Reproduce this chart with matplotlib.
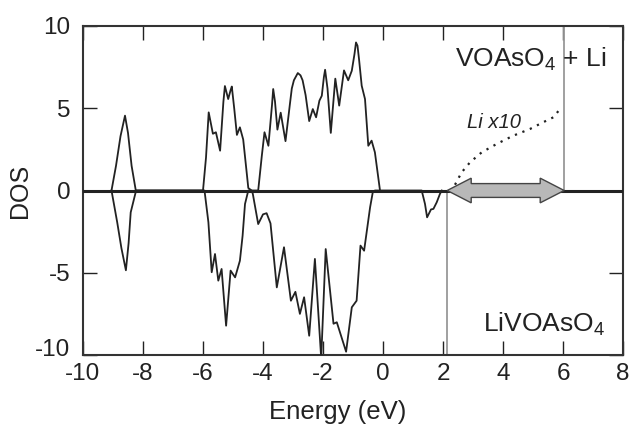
import numpy as np
import matplotlib
matplotlib.use("Agg")
import matplotlib.pyplot as plt
import matplotlib.transforms as mtransforms
from matplotlib.patches import Polygon

plt.rcParams['font.family'] = ['Liberation Sans', 'DejaVu Sans']
plt.rcParams['mathtext.fontset'] = 'custom'
plt.rcParams['mathtext.rm'] = 'Liberation Sans'
plt.rcParams['mathtext.it'] = 'Liberation Sans:italic'
plt.rcParams['axes.unicode_minus'] = False

# VOAsO4 + Li (upper, positive DOS)
up_e = [-9.05, -8.9, -8.75, -8.6, -8.5, -8.38, -8.24,
        -6.0, -5.9, -5.81, -5.67, -5.57, -5.43, -5.32, -5.27, -5.16, -5.08, -5.04,
        -4.96, -4.87, -4.77, -4.66, -4.55, -4.49, -4.38,
        -4.16, -4.04, -3.95, -3.82, -3.7, -3.66, -3.6, -3.52, -3.41, -3.25, -3.1,
        -3.04, -2.97, -2.84, -2.75, -2.68, -2.58, -2.46, -2.34, -2.23, -2.12, -2.04,
        -1.97, -1.93, -1.85, -1.74, -1.59, -1.46, -1.30, -1.16, -1.04, -0.95, -0.9,
        -0.85, -0.8, -0.71, -0.6, -0.49, -0.38, -0.27, -0.1]
up_dos = [0, 1.5, 3.3, 4.55, 3.5, 1.5, 0,
          0, 2.0, 4.75, 3.45, 3.54, 2.42, 5.4, 6.35, 5.56, 6.1, 6.32,
          5.0, 3.38, 3.84, 3.1, 1.2, 0.15, 0,
          0, 2.1, 3.54, 2.72, 5.2, 6.17, 5.4, 3.7, 4.73, 3.0, 5.3,
          6.2, 6.7, 7.14, 7.0, 6.7, 5.8, 4.22, 4.95, 4.45, 5.46, 5.76,
          6.9, 7.34, 6.2, 3.5, 6.8, 5.16, 7.3, 6.7, 7.28, 8.3, 9.0,
          8.8, 8.0, 6.37, 5.56, 2.72, 3.03, 2.32, 0]

# LiVOAsO4 (lower, negative DOS)
dn_e = [-9.05, -8.86, -8.72, -8.57, -8.48, -8.41, -8.23,
        -5.95, -5.82, -5.71, -5.6, -5.49, -5.38, -5.23, -5.08, -4.93, -4.77, -4.68,
        -4.6, -4.49, -4.38, -4.34, -4.16, -4.0, -3.88, -3.75, -3.54, -3.3, -3.07,
        -2.92, -2.77, -2.63, -2.46, -2.27, -2.06, -1.91, -1.65, -1.54, -1.23, -1.04,
        -0.88, -0.75, -0.63, -0.43, -0.34, -0.27,
        1.29, 1.4, 1.47, 1.6, 1.68, 1.79, 1.9, 1.96]
dn_dos = [0, -1.93, -3.5, -4.85, -3.2, -1.33, 0,
          0, -1.93, -4.97, -3.86, -5.48, -4.77, -8.22, -4.87, -5.28, -4.27, -2.75,
          -0.82, 0, 0, -0.2, -2.04, -1.45, -1.38, -2.0, -5.89, -3.45, -6.7,
          -6.16, -7.5, -6.49, -8.83, -4.16, -10.2, -3.56, -8.1, -8.01, -9.8, -7.1,
          -6.7, -3.35, -3.66, -1.02, -0.1, 0,
          0, -0.82, -1.63, -1.15, -1.12, -0.72, -0.2, 0]

# Li contribution x10 (dotted)
li_e = [2.4, 2.62, 2.9, 3.29, 3.79, 4.34, 4.9, 5.34, 5.68, 5.92]
li_dos = [0.35, 1.1, 1.71, 2.32, 2.83, 3.33, 3.74, 4.15, 4.45, 5.0]

gap_lo = 2.14
gap_hi = 6.04

fig = plt.figure(figsize=(6.29, 4.25), dpi=100)
ax = fig.add_axes([83 / 629, 70 / 425, 540 / 629, 329 / 425])

ax.axhline(0, color='#222222', lw=2.2, zorder=3)
ax.plot(up_e, up_dos, color='#222222', lw=1.3, zorder=4)
ax.plot(dn_e, dn_dos, color='#222222', lw=1.3, zorder=4)
ax.plot(li_e, li_dos, color='#222222', lw=1.6, ls=(0, (1, 2.6)), zorder=4)

ax.plot([gap_lo, gap_lo], [0, -10], color='#999999', lw=1.3, zorder=2)
ax.plot([gap_hi, gap_hi], [0, 10], color='#999999', lw=1.3, zorder=2)

# double headed arrow across the gap
head_len = 0.8
head_w = 0.75
shaft_w = 0.42
arrow = Polygon([(gap_lo, 0), (gap_lo + head_len, head_w), (gap_lo + head_len, shaft_w),
                 (gap_hi - head_len, shaft_w), (gap_hi - head_len, head_w), (gap_hi, 0),
                 (gap_hi - head_len, -head_w), (gap_hi - head_len, -shaft_w),
                 (gap_lo + head_len, -shaft_w), (gap_lo + head_len, -head_w)],
                closed=True, facecolor='#b8b8b8', edgecolor='#444444', lw=1.0, zorder=5)
ax.add_patch(arrow)

ax.text(7.45, 7.95, r'VOAsO$_4$ + Li', ha='right', va='center', fontsize=19, color='#222222')
ax.text(7.4, -8.15, r'LiVOAsO$_4$', ha='right', va='center', fontsize=19, color='#222222')
ax.text(3.7, 4.15, 'Li x10', ha='center', va='center', fontsize=14.5, style='italic',
        color='#222222')

ax.set_xlim(-10, 8)
ax.set_ylim(-10, 10)
ax.set_xticks(np.arange(-10, 9, 2))
ax.set_yticks([-10, -5, 0, 5, 10])
ax.tick_params(direction='in', length=10, width=1.0, top=True, right=True,
               labelsize=17.5, colors='#222222')
ax.tick_params(axis='x', pad=6)
ax.tick_params(axis='y', pad=9)
for s in ax.spines.values():
    s.set_linewidth(1.5)
    s.set_color('#333333')

# lowest y label sits a little higher in the original
lab = ax.yaxis.get_major_ticks()[0].label1
lab.set_transform(lab.get_transform() + mtransforms.ScaledTranslation(0, 8 / 100, fig.dpi_scale_trans))

ax.set_xlabel('Energy (eV)', fontsize=18.5, color='#222222')
ax.xaxis.set_label_coords(0.472, -0.137)
ax.set_ylabel('DOS', fontsize=18, color='#222222')
ax.yaxis.set_label_coords(-0.095, 0.5)

fig.savefig('out.png', dpi=100)
